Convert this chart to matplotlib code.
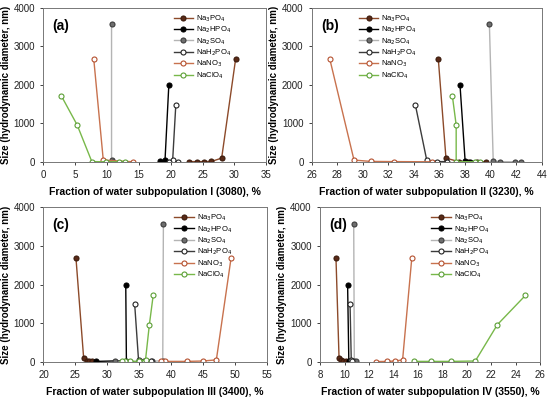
import matplotlib
matplotlib.use('Agg')
import matplotlib.pyplot as plt

plt.rcParams['font.family'] = ['Liberation Sans', 'DejaVu Sans']

salt_labels = ['Na$_3$PO$_4$', 'Na$_2$HPO$_4$', 'Na$_2$SO$_4$',
               'NaH$_2$PO$_4$', 'NaNO$_3$', 'NaClO$_4$']

# one list per panel (a), (b), (c), (d)
na3po4_x = [[30.2, 28.0, 26.4, 25.2, 24.1, 22.9],
            [35.9, 36.5, 37.5, 38.2, 38.9, 39.6],
            [25.1, 26.3, 26.8, 27.2, 27.6],
            [9.3, 9.55, 9.7, 9.9, 10.1]]
na3po4_y = [[2680, 100, 15, 10, 10, 10],
            [2680, 100, 10, 10, 10, 5],
            [2680, 100, 30, 10, 10],
            [2680, 100, 40, 20, 10]]

na2hpo4_x = [[19.7, 19.1, 18.3],
             [37.6, 38.0, 38.4],
             [32.9, 33.0, 28.3],
             [10.25, 10.35, 10.5]]
na2hpo4_y = [[2000, 40, 15],
             [2000, 30, 10],
             [2000, 30, 10],
             [2000, 30, 10]]

na2so4_x = [[10.7, 10.7, 11.0],
            [39.9, 40.2, 40.7, 41.9, 42.4],
            [38.8, 38.7, 37.0, 31.2],
            [10.75, 10.8, 10.9]]
na2so4_y = [[3580, 40, 10],
            [3580, 30, 10, 5, 5],
            [3580, 30, 10, 10],
            [3580, 30, 10]]

nah2po4_x = [[20.8, 20.3, 19.7, 21.1],
             [34.1, 35.0, 35.8, 36.6],
             [34.3, 34.9, 35.8, 36.8],
             [10.45, 10.55, 10.65]]
nah2po4_y = [[1490, 40, 5, 5],
             [1490, 40, 10, 10],
             [1490, 50, 10, 10],
             [1490, 40, 10]]

nano3_x = [[7.9, 9.4, 14.1],
           [27.4, 29.3, 30.6, 32.4, 35.4],
           [49.4, 47.1, 45.0, 42.5, 39.0, 38.4],
           [15.5, 14.75, 14.15, 13.5, 12.6]]
nano3_y = [[2680, 50, 5],
           [2680, 50, 15, 10, 5],
           [2680, 50, 20, 10, 10, 10],
           [2680, 50, 20, 10, 5]]

naclo4_x = [[2.8, 5.3, 7.6, 9.8, 11.9, 12.8],
            [37.0, 37.3, 37.3, 38.8, 39.2],
            [37.2, 36.6, 36.0, 35.0, 33.5, 32.8, 32.3],
            [24.8, 22.5, 20.7, 18.7, 17.1, 15.7]]
naclo4_y = [[1720, 960, 10, 5, 5, 5],
            [1720, 960, 10, 5, 5],
            [1720, 960, 50, 10, 10, 10, 10],
            [1720, 960, 20, 10, 10, 10]]

panel_tags = ['(a)', '(b)', '(c)', '(d)']
x_titles = ['Fraction of water subpopulation I (3080), %',
            'Fraction of water subpopulation II (3230), %',
            'Fraction of water subpopulation III (3400), %',
            'Fraction of water subpopulation IV (3550), %']
x_limits = [(0, 35), (26, 44), (20, 55), (8, 26)]
x_steps = [5, 2, 5, 2]
y_ticks = [0, 1000, 2000, 3000, 4000]

# line colour, marker face, marker edge
styles = [('#8c4a2a', '#5a2a17', '#3a1a0c'),
          ('#000000', '#000000', '#000000'),
          ('#b4b4b4', '#6e6e6e', '#3c3c3c'),
          ('#3c3c3c', 'white', '#222222'),
          ('#c8724e', 'white', '#b4502e'),
          ('#78b84a', 'white', '#5a9e34')]

boxes = [[0.079, 0.593, 0.405, 0.387],
         [0.567, 0.593, 0.418, 0.387],
         [0.079, 0.091, 0.406, 0.388],
         [0.582, 0.091, 0.400, 0.388]]
legend_x = [0.56, 0.18, 0.56, 0.48]

fig = plt.figure(figsize=(5.5, 3.98), dpi=100)

series_x = [na3po4_x, na2hpo4_x, na2so4_x, nah2po4_x, nano3_x, naclo4_x]
series_y = [na3po4_y, na2hpo4_y, na2so4_y, nah2po4_y, nano3_y, naclo4_y]

for p in range(4):
    ax = fig.add_axes(boxes[p])
    for s in range(6):
        lc, fc, ec = styles[s]
        ax.plot(series_x[s][p], series_y[s][p], '-o', color=lc, lw=1.0,
                ms=3.6, mfc=fc, mec=ec, mew=0.8, label=salt_labels[s])
    lo, hi = x_limits[p]
    ax.set_xlim(lo, hi)
    ax.set_ylim(0, 4000)
    ax.set_xticks(range(lo, hi + 1, x_steps[p]))
    ax.set_yticks(y_ticks)
    ax.tick_params(labelsize=7, length=2.5, width=0.6, colors='#222222')
    ax.tick_params(axis='x', pad=3.5)
    for sp in ax.spines.values():
        sp.set_color('#777777')
        sp.set_linewidth(0.7)
    ax.set_xlabel(x_titles[p], fontsize=7.5, fontweight='bold', labelpad=5)
    ax.set_ylabel('Size (hydrodynamic diameter, nm)', fontsize=7,
                  fontweight='bold', labelpad=2)
    ax.text(0.04, 0.93, panel_tags[p], transform=ax.transAxes,
            fontsize=10, fontweight='bold', va='top')
    ax.legend(loc='upper left', bbox_to_anchor=(legend_x[p], 1.0),
              frameon=False, fontsize=5.5, handlelength=2.6,
              labelspacing=0.12, handletextpad=0.4, borderaxespad=0.3)

fig.savefig('out.png', dpi=100)
